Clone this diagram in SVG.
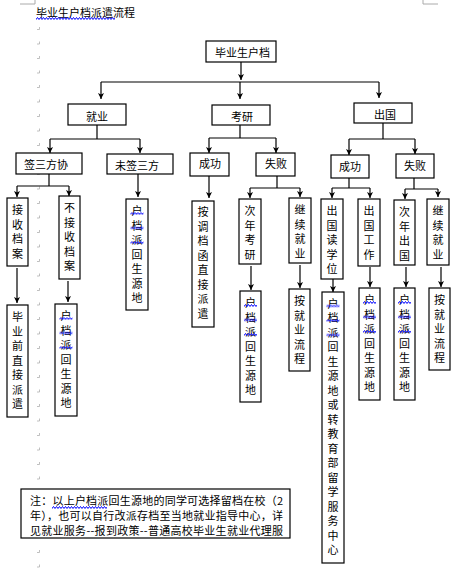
<svg xmlns="http://www.w3.org/2000/svg" width="468" height="581" viewBox="0 0 468 581">
<style>
text{font-family:"Noto Sans CJK SC","Noto Sans",sans-serif;font-size:11px;fill:#000}
.b{fill:#fff;stroke:#000;stroke-width:1.2}
.c{fill:none;stroke:#000;stroke-width:1.2}
.a{marker-end:url(#ah)}
.v{text-anchor:middle}
.pm{fill:none;stroke:#b0b0b0;stroke-width:0.8}
</style>
<defs>
<marker id="ah" viewBox="0 0 6 6" refX="6" refY="3" markerWidth="6" markerHeight="6" markerUnits="userSpaceOnUse" orient="auto"><path d="M0,0 L6,3 L0,6 L1.5,3 z" fill="#000"/></marker>
<pattern id="wv" width="3" height="3" patternUnits="userSpaceOnUse"><path d="M-1.5,0.5 L0,2.5 L1.5,0.5 L3,2.5 L4.5,0.5" fill="none" stroke="#0000ff" stroke-width="1"/></pattern>
<path id="pmk" d="M2.5,-2 V0.5 H0" class="pm"/>
</defs>

<g id="page-marks">
<path d="M20,4 H35 V0 M423,0 V4 H438" fill="none" stroke="#aaa" stroke-width="1"/>
<use href="#pmk" x="37" y="29"/><use href="#pmk" x="37" y="43.5"/><use href="#pmk" x="37" y="58"/><use href="#pmk" x="37" y="72.5"/><use href="#pmk" x="37" y="87"/><use href="#pmk" x="37" y="101.5"/><use href="#pmk" x="37" y="116"/><use href="#pmk" x="37" y="130.5"/><use href="#pmk" x="37" y="145"/><use href="#pmk" x="37" y="159.5"/><use href="#pmk" x="37" y="174"/><use href="#pmk" x="37" y="188.5"/><use href="#pmk" x="37" y="203"/><use href="#pmk" x="37" y="217.5"/><use href="#pmk" x="37" y="232"/><use href="#pmk" x="37" y="246.5"/><use href="#pmk" x="37" y="261"/><use href="#pmk" x="37" y="275.5"/><use href="#pmk" x="37" y="290"/><use href="#pmk" x="37" y="304.5"/><use href="#pmk" x="37" y="319"/><use href="#pmk" x="37" y="333.5"/><use href="#pmk" x="37" y="348"/><use href="#pmk" x="37" y="362.5"/><use href="#pmk" x="37" y="377"/><use href="#pmk" x="37" y="391.5"/><use href="#pmk" x="37" y="406"/><use href="#pmk" x="37" y="420.5"/><use href="#pmk" x="37" y="435"/><use href="#pmk" x="37" y="449.5"/><use href="#pmk" x="37" y="464"/><use href="#pmk" x="37" y="478.5"/><use href="#pmk" x="37" y="552"/><use href="#pmk" x="37" y="566.5"/>
</g>

<g id="title">
<text x="36" y="17">毕业生户档派遣流程</text>
<rect x="0" y="0" width="79" height="3" fill="url(#wv)" transform="translate(36,17)"/>
</g>

<g id="connectors">
<path class="c a" d="M241,62 V80"/>
<path class="c" d="M101,82 H379"/>
<path class="c a" d="M101,82 V99"/>
<path class="c a" d="M240,82 V99"/>
<path class="c a" d="M379,82 V98"/>
<path class="c" d="M97,125 V139 M50,139 H140"/>
<path class="c a" d="M50,139 V153"/>
<path class="c a" d="M140,139 V153"/>
<path class="c" d="M240,125 V138 M209,138 H276"/>
<path class="c a" d="M209,138 V153"/>
<path class="c a" d="M276,138 V153"/>
<path class="c" d="M383,123 V139 M349,139 H415"/>
<path class="c a" d="M349,139 V155"/>
<path class="c a" d="M415,139 V154"/>
<path class="c" d="M49,174 V186 M17,186 H69"/>
<path class="c a" d="M17,186 V197"/>
<path class="c a" d="M69,186 V196"/>
<path class="c a" d="M17,268 V303"/>
<path class="c a" d="M68,281 V302"/>
<path class="c a" d="M138,174 V197"/>
<path class="c a" d="M209,176 V198"/>
<path class="c" d="M277,176 V188 M250,188 H300"/>
<path class="c a" d="M250,188 V198"/>
<path class="c a" d="M300,188 V197"/>
<path class="c" d="M349,178 V188 M332,188 H370"/>
<path class="c a" d="M332,188 V198"/>
<path class="c a" d="M370,188 V198"/>
<path class="c" d="M414,178 V189 M405,189 H438"/>
<path class="c a" d="M405,189 V199"/>
<path class="c a" d="M438,189 V197"/>
<path class="c a" d="M251,266 V290"/>
<path class="c a" d="M300,265 V288"/>
<path class="c a" d="M333,278 V292"/>
<path class="c a" d="M370,267 V287"/>
<path class="c a" d="M406,267 V287"/>
<path class="c a" d="M441,267 V287"/>
</g>

<g id="n-root"><rect class="b" x="206" y="41" width="70" height="21"/><text x="215" y="57">毕业生户档</text></g>
<g id="n-jiuye"><rect class="b" x="68" y="104" width="58" height="21"/><text x="86" y="121">就业</text></g>
<g id="n-kaoyan"><rect class="b" x="212" y="105" width="58" height="20"/><text x="231" y="121">考研</text></g>
<g id="n-chuguo"><rect class="b" x="354" y="103" width="58" height="20"/><text x="374" y="119">出国</text></g>
<g id="n-qian"><rect class="b" x="16" y="153" width="66" height="21"/><text x="24" y="169">签三方协</text></g>
<g id="n-weiqian"><rect class="b" x="107" y="154" width="66" height="20"/><text x="115" y="170">未签三方</text></g>
<g id="n-ky-cg"><rect class="b" x="190" y="153" width="39" height="23"/><text x="199" y="168">成功</text></g>
<g id="n-ky-sb"><rect class="b" x="256" y="153" width="39" height="23"/><text x="265" y="168">失败</text></g>
<g id="n-cg-cg"><rect class="b" x="331" y="155" width="38" height="23"/><text x="339" y="171">成功</text></g>
<g id="n-cg-sb"><rect class="b" x="396" y="154" width="38" height="24"/><text x="404" y="170">失败</text></g>

<g id="n-jieshou"><rect class="b" x="7" y="198" width="21" height="68"/>
<text class="v" y="214"><tspan x="17.5">接</tspan><tspan x="17.5" dy="14.5">收</tspan><tspan x="17.5" dy="14.5">档</tspan><tspan x="17.5" dy="14.5">案</tspan></text></g>
<g id="n-bujieshou"><rect class="b" x="59" y="196" width="21" height="83"/>
<text class="v" y="212"><tspan x="69.5">不</tspan><tspan x="69.5" dy="14.5">接</tspan><tspan x="69.5" dy="14.5">收</tspan><tspan x="69.5" dy="14.5">档</tspan><tspan x="69.5" dy="14.5">案</tspan></text></g>
<g id="n-biyeqian"><rect class="b" x="7" y="305" width="21" height="112"/>
<text class="v" y="321"><tspan x="17.5">毕</tspan><tspan x="17.5" dy="14.5">业</tspan><tspan x="17.5" dy="14.5">前</tspan><tspan x="17.5" dy="14.5">直</tspan><tspan x="17.5" dy="14.5">接</tspan><tspan x="17.5" dy="14.5">派</tspan><tspan x="17.5" dy="14.5">遣</tspan></text></g>
<g id="n-hd1"><rect class="b" x="55" y="304" width="22" height="112"/>
<text class="v" y="320"><tspan x="66">户</tspan><tspan x="66" dy="14.5">档</tspan><tspan x="66" dy="14.5">派</tspan><tspan x="66" dy="14.5">回</tspan><tspan x="66" dy="14.5">生</tspan><tspan x="66" dy="14.5">源</tspan><tspan x="66" dy="14.5">地</tspan></text></g>
<g id="n-hd2"><rect class="b" x="126" y="199" width="22" height="111"/>
<text class="v" y="215"><tspan x="137">户</tspan><tspan x="137" dy="14.5">档</tspan><tspan x="137" dy="14.5">派</tspan><tspan x="137" dy="14.5">回</tspan><tspan x="137" dy="14.5">生</tspan><tspan x="137" dy="14.5">源</tspan><tspan x="137" dy="14.5">地</tspan></text></g>
<g id="n-tiaodang"><rect class="b" x="192" y="201" width="22" height="126"/>
<text class="v" y="216"><tspan x="203">按</tspan><tspan x="203" dy="14.5">调</tspan><tspan x="203" dy="14.5">档</tspan><tspan x="203" dy="14.5">函</tspan><tspan x="203" dy="14.5">直</tspan><tspan x="203" dy="14.5">接</tspan><tspan x="203" dy="14.5">派</tspan><tspan x="203" dy="14.5">遣</tspan></text></g>
<g id="n-cnky"><rect class="b" x="239" y="199" width="22" height="65"/>
<text class="v" y="215"><tspan x="250">次</tspan><tspan x="250" dy="14.5">年</tspan><tspan x="250" dy="14.5">考</tspan><tspan x="250" dy="14.5">研</tspan></text></g>
<g id="n-hd3"><rect class="b" x="240" y="291" width="21" height="111"/>
<text class="v" y="307"><tspan x="250.5">户</tspan><tspan x="250.5" dy="14.5">档</tspan><tspan x="250.5" dy="14.5">派</tspan><tspan x="250.5" dy="14.5">回</tspan><tspan x="250.5" dy="14.5">生</tspan><tspan x="250.5" dy="14.5">源</tspan><tspan x="250.5" dy="14.5">地</tspan></text></g>
<g id="n-jxjy1"><rect class="b" x="289" y="198" width="22" height="65"/>
<text class="v" y="214"><tspan x="300">继</tspan><tspan x="300" dy="14.5">续</tspan><tspan x="300" dy="14.5">就</tspan><tspan x="300" dy="14.5">业</tspan></text></g>
<g id="n-ajy1"><rect class="b" x="289" y="289" width="21" height="82"/>
<text class="v" y="305"><tspan x="299.5">按</tspan><tspan x="299.5" dy="14.5">就</tspan><tspan x="299.5" dy="14.5">业</tspan><tspan x="299.5" dy="14.5">流</tspan><tspan x="299.5" dy="14.5">程</tspan></text></g>
<g id="n-dxw"><rect class="b" x="321" y="199" width="22" height="80"/>
<text class="v" y="215"><tspan x="332">出</tspan><tspan x="332" dy="14.5">国</tspan><tspan x="332" dy="14.5">读</tspan><tspan x="332" dy="14.5">学</tspan><tspan x="332" dy="14.5">位</tspan></text></g>
<g id="n-hd4"><rect class="b" x="322" y="292" width="22" height="271"/>
<text class="v" y="307.5"><tspan x="333">户</tspan><tspan x="333" dy="14.5">档</tspan><tspan x="333" dy="14.5">派</tspan><tspan x="333" dy="14.5">回</tspan><tspan x="333" dy="14.5">生</tspan><tspan x="333" dy="14.5">源</tspan><tspan x="333" dy="14.5">地</tspan><tspan x="333" dy="14.5">或</tspan><tspan x="333" dy="14.5">转</tspan><tspan x="333" dy="14.5">教</tspan><tspan x="333" dy="14.5">育</tspan><tspan x="333" dy="14.5">部</tspan><tspan x="333" dy="14.5">留</tspan><tspan x="333" dy="14.5">学</tspan><tspan x="333" dy="14.5">服</tspan><tspan x="333" dy="14.5">务</tspan><tspan x="333" dy="14.5">中</tspan><tspan x="333" dy="14.5">心</tspan></text></g>
<g id="n-cggz"><rect class="b" x="358" y="199" width="22" height="67"/>
<text class="v" y="215"><tspan x="369">出</tspan><tspan x="369" dy="14.5">国</tspan><tspan x="369" dy="14.5">工</tspan><tspan x="369" dy="14.5">作</tspan></text></g>
<g id="n-hd5"><rect class="b" x="359" y="288" width="21" height="112"/>
<text class="v" y="304"><tspan x="369.5">户</tspan><tspan x="369.5" dy="14.5">档</tspan><tspan x="369.5" dy="14.5">派</tspan><tspan x="369.5" dy="14.5">回</tspan><tspan x="369.5" dy="14.5">生</tspan><tspan x="369.5" dy="14.5">源</tspan><tspan x="369.5" dy="14.5">地</tspan></text></g>
<g id="n-cncg"><rect class="b" x="394" y="200" width="21" height="65"/>
<text class="v" y="216"><tspan x="404.5">次</tspan><tspan x="404.5" dy="14.5">年</tspan><tspan x="404.5" dy="14.5">出</tspan><tspan x="404.5" dy="14.5">国</tspan></text></g>
<g id="n-hd6"><rect class="b" x="394" y="288" width="21" height="112"/>
<text class="v" y="304"><tspan x="404.5">户</tspan><tspan x="404.5" dy="14.5">档</tspan><tspan x="404.5" dy="14.5">派</tspan><tspan x="404.5" dy="14.5">回</tspan><tspan x="404.5" dy="14.5">生</tspan><tspan x="404.5" dy="14.5">源</tspan><tspan x="404.5" dy="14.5">地</tspan></text></g>
<g id="n-jxjy2"><rect class="b" x="427" y="199" width="22" height="66"/>
<text class="v" y="215"><tspan x="438">继</tspan><tspan x="438" dy="14.5">续</tspan><tspan x="438" dy="14.5">就</tspan><tspan x="438" dy="14.5">业</tspan></text></g>
<g id="n-ajy2"><rect class="b" x="429" y="288" width="21" height="82"/>
<text class="v" y="304"><tspan x="439.5">按</tspan><tspan x="439.5" dy="14.5">就</tspan><tspan x="439.5" dy="14.5">业</tspan><tspan x="439.5" dy="14.5">流</tspan><tspan x="439.5" dy="14.5">程</tspan></text></g>

<g id="spell-marks">
<rect width="13" height="3" fill="url(#wv)" transform="translate(59.5,317)"/><rect width="13" height="3" fill="url(#wv)" transform="translate(59.5,331.5)"/><rect width="13" height="3" fill="url(#wv)" transform="translate(59.5,346)"/>
<rect width="13" height="3" fill="url(#wv)" transform="translate(130.5,212)"/><rect width="13" height="3" fill="url(#wv)" transform="translate(130.5,226.5)"/><rect width="13" height="3" fill="url(#wv)" transform="translate(130.5,241)"/>
<rect width="13" height="3" fill="url(#wv)" transform="translate(244,304)"/><rect width="13" height="3" fill="url(#wv)" transform="translate(244,318.5)"/><rect width="13" height="3" fill="url(#wv)" transform="translate(244,333)"/>
<rect width="13" height="3" fill="url(#wv)" transform="translate(326.5,304.5)"/><rect width="13" height="3" fill="url(#wv)" transform="translate(326.5,319)"/><rect width="13" height="3" fill="url(#wv)" transform="translate(326.5,333.5)"/>
<rect width="13" height="3" fill="url(#wv)" transform="translate(363,301)"/><rect width="13" height="3" fill="url(#wv)" transform="translate(363,315.5)"/><rect width="13" height="3" fill="url(#wv)" transform="translate(363,330)"/>
<rect width="13" height="3" fill="url(#wv)" transform="translate(398,301)"/><rect width="13" height="3" fill="url(#wv)" transform="translate(398,315.5)"/><rect width="13" height="3" fill="url(#wv)" transform="translate(398,330)"/>
</g>

<g id="n-note">
<rect class="b" x="21" y="489" width="269" height="49"/>
<text x="30" y="505" textLength="253" lengthAdjust="spacing">注：以上户档派回生源地的同学可选择留档在校（2</text>
<text x="30" y="520" textLength="253" lengthAdjust="spacing">年），也可以自行改派存档至当地就业指导中心，详</text>
<text x="30" y="535" textLength="253" lengthAdjust="spacing">见就业服务--报到政策--普通高校毕业生就业代理服</text>
<rect width="55" height="3" fill="url(#wv)" transform="translate(52,506)"/>
</g>
</svg>
